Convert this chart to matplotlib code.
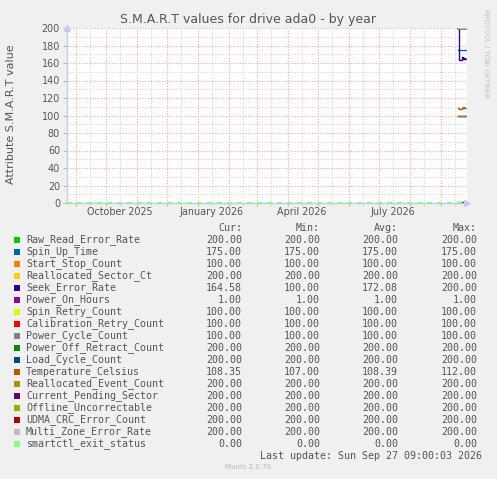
import matplotlib
matplotlib.use("Agg")
import matplotlib.pyplot as plt
import matplotlib.dates as mdates
import matplotlib.transforms as mtrans
from datetime import datetime, timedelta

# ---- data ----
title = "S.M.A.R.T values for drive ada0 - by year"
ylabel = "Attribute S.M.A.R.T value"
t_start = datetime(2025, 8, 23, 9, 0)
t_end = datetime(2026, 9, 27, 9, 0)

# daily samples that exist (last days of the year view)
days = [datetime(2026, 9, 18) + timedelta(days=i) for i in range(9)]

raw_read = [200, 200, 200, 200, 200, 200, 200, 200, 200]
spin_up = [175, 175, 175, 175, 175, 175, 175, 175, 175]
start_stop = [100, 100, 100, 100, 100, 100, 100, 100, 100]
realloc_sector = [200, 200, 200, 200, 200, 200, 200, 200, 200]
seek_error = [200, 163, 163, 164, 167, 165, 166, 165, 164.58]
power_on = [1, 1, 1, 1, 1, 1, 1, 1, 1]
spin_retry = [100, 100, 100, 100, 100, 100, 100, 100, 100]
calib_retry = [100, 100, 100, 100, 100, 100, 100, 100, 100]
power_cycle = [100, 100, 100, 100, 100, 100, 100, 100, 100]
power_off_retract = [200, 200, 200, 200, 200, 200, 200, 200, 200]
load_cycle = [200, 200, 200, 200, 200, 200, 200, 200, 200]
temperature = [109, 108, 107, 108, 109, 110, 109, 108.5, 108.35]
realloc_event = [200, 200, 200, 200, 200, 200, 200, 200, 200]
pending = [200, 200, 200, 200, 200, 200, 200, 200, 200]
offline_unc = [200, 200, 200, 200, 200, 200, 200, 200, 200]
udma_crc = [200, 200, 200, 200, 200, 200, 200, 200, 200]
multi_zone = [200, 200, 200, 200, 200, 200, 200, 200, 200]
smartctl_dates = [t_start, t_end]
smartctl = [0, 0]

names = ["Raw_Read_Error_Rate", "Spin_Up_Time", "Start_Stop_Count",
         "Reallocated_Sector_Ct", "Seek_Error_Rate", "Power_On_Hours",
         "Spin_Retry_Count", "Calibration_Retry_Count", "Power_Cycle_Count",
         "Power_Off_Retract_Count", "Load_Cycle_Count", "Temperature_Celsius",
         "Reallocated_Event_Count", "Current_Pending_Sector",
         "Offline_Uncorrectable", "UDMA_CRC_Error_Count",
         "Multi_Zone_Error_Rate", "smartctl_exit_status"]
colors = ["#00CC00", "#0066B3", "#FF8000", "#FFCC00", "#330099", "#990099",
          "#CCFF00", "#FF0000", "#808080", "#008F00", "#00487D", "#B35A00",
          "#B38F00", "#6B006B", "#8FB300", "#B30000", "#BEBEBE", "#80FF80"]
cur = [200.00, 175.00, 100.00, 200.00, 164.58, 1.00, 100.00, 100.00, 100.00,
       200.00, 200.00, 108.35, 200.00, 200.00, 200.00, 200.00, 200.00, 0.00]
mins = [200.00, 175.00, 100.00, 200.00, 100.00, 1.00, 100.00, 100.00, 100.00,
        200.00, 200.00, 107.00, 200.00, 200.00, 200.00, 200.00, 200.00, 0.00]
avgs = [200.00, 175.00, 100.00, 200.00, 172.08, 1.00, 100.00, 100.00, 100.00,
        200.00, 200.00, 108.39, 200.00, 200.00, 200.00, 200.00, 200.00, 0.00]
maxs = [200.00, 175.00, 100.00, 200.00, 200.00, 1.00, 100.00, 100.00, 100.00,
        200.00, 200.00, 112.00, 200.00, 200.00, 200.00, 200.00, 200.00, 0.00]

label_dates = [datetime(2025, 10, 15), datetime(2026, 1, 15),
               datetime(2026, 4, 15), datetime(2026, 7, 15)]
label_texts = ["October 2025", "January 2026", "April 2026", "July 2026"]

# ---- figure ----
W, H = 497, 479
fig = plt.figure(figsize=(W / 100, H / 100), dpi=100, facecolor="#F0F0F0")
ax = fig.add_axes([67 / W, 1 - 203 / H, 400 / W, 175 / H])
ax.set_facecolor("white")

def fx(x):
    return x / W

def fy(y):
    return 1 - y / H

txt = "#555555"
axis_col = "#C8C8F4"

series = [raw_read, spin_up, start_stop, realloc_sector, seek_error, power_on,
          spin_retry, calib_retry, power_cycle, power_off_retract, load_cycle,
          temperature, realloc_event, pending, offline_unc, udma_crc, multi_zone]
for vals, c in zip(series, colors[:-1]):
    ax.plot(days, vals, color=c, lw=1.0, drawstyle="steps-post", zorder=3)
ax.plot(smartctl_dates, smartctl, color=colors[-1], lw=1.5,
        dashes=(2.4, 2.4), zorder=4, clip_on=False)

ax.set_xlim(t_start, t_end)
ax.set_ylim(0, 200)

# grid
ax.set_yticks(range(0, 201, 20))
ax.set_yticks(range(10, 200, 20), minor=True)
ax.xaxis.set_major_locator(mdates.MonthLocator())
ax.xaxis.set_minor_locator(mdates.MonthLocator(bymonthday=15))
ax.grid(which="minor", color="#D4D4D4", lw=0.8, linestyle=(0, (1, 1.5)))
ax.grid(which="major", color="#EBA6A6", lw=0.8, linestyle=(0, (1, 1.5)))
ax.set_axisbelow(True)
ax.tick_params(axis="x", which="both", labelbottom=False, length=2,
               color="#EBA6A6", direction="out")
ax.tick_params(axis="x", which="minor", color="#D4D4D4")
ax.tick_params(axis="y", which="major", length=3, color="#BBBBBB",
               labelsize=6.9, labelcolor=txt, pad=2)
ax.tick_params(axis="y", which="minor", length=0)

for s in ["top", "right"]:
    ax.spines[s].set_visible(False)
for s in ["left", "bottom"]:
    ax.spines[s].set_color(axis_col)
    ax.spines[s].set_linewidth(1.0)
    ax.spines[s].set_zorder(2)
ax.plot(1.0, 0, marker=">", ms=5, color=axis_col, transform=ax.transAxes,
        clip_on=False, zorder=5)
ax.plot(0, 1.0, marker="^", ms=5, color=axis_col, transform=ax.transAxes,
        clip_on=False, zorder=5)

tr = mtrans.blended_transform_factory(ax.transData, fig.transFigure)
for d, s in zip(label_dates, label_texts):
    ax.text(d, fy(212), s, transform=tr, ha="center", va="center",
            fontsize=6.9, color=txt)

fig.text(fx(248), fy(19), title, ha="center", va="center", fontsize=9.0,
         color=txt)
fig.text(fx(11), fy(114), ylabel, ha="center", va="center", rotation=90,
         fontsize=8.0, color=txt)
fig.text(fx(486), fy(53), "RRDTOOL / TOBI OETIKER", ha="center", va="center",
         rotation=270, fontsize=5.0, color="#C0C0C0")

# legend table
mono = "DejaVu Sans Mono"
fs = 7.2
cols_x = [242, 320, 398, 477]
for x, h in zip(cols_x, ["Cur:", "Min:", "Avg:", "Max:"]):
    fig.text(fx(x), fy(228), h, ha="right", va="center", family=mono,
             fontsize=fs, color=txt)
for i, n in enumerate(names):
    y = 240 + 12 * i
    fig.patches.append(plt.Rectangle((fx(14), fy(y + 3)), 6 / W, 6 / H,
                                     transform=fig.transFigure,
                                     color=colors[i], lw=0))
    fig.text(fx(26), fy(y), n, ha="left", va="center", family=mono,
             fontsize=fs, color=txt)
    for x, v in zip(cols_x, [cur[i], mins[i], avgs[i], maxs[i]]):
        fig.text(fx(x), fy(y), "%.2f" % v, ha="right", va="center",
                 family=mono, fontsize=fs, color=txt)

fig.text(fx(482), fy(456), "Last update: Sun Sep 27 09:00:03 2026",
         ha="right", va="center", family=mono, fontsize=fs, color=txt)
fig.text(fx(248), fy(467), "Munin 2.0.76", ha="center", va="center",
         fontsize=5.0, color="#B4B4B4")

fig.savefig("out.png", dpi=100, facecolor=fig.get_facecolor())
